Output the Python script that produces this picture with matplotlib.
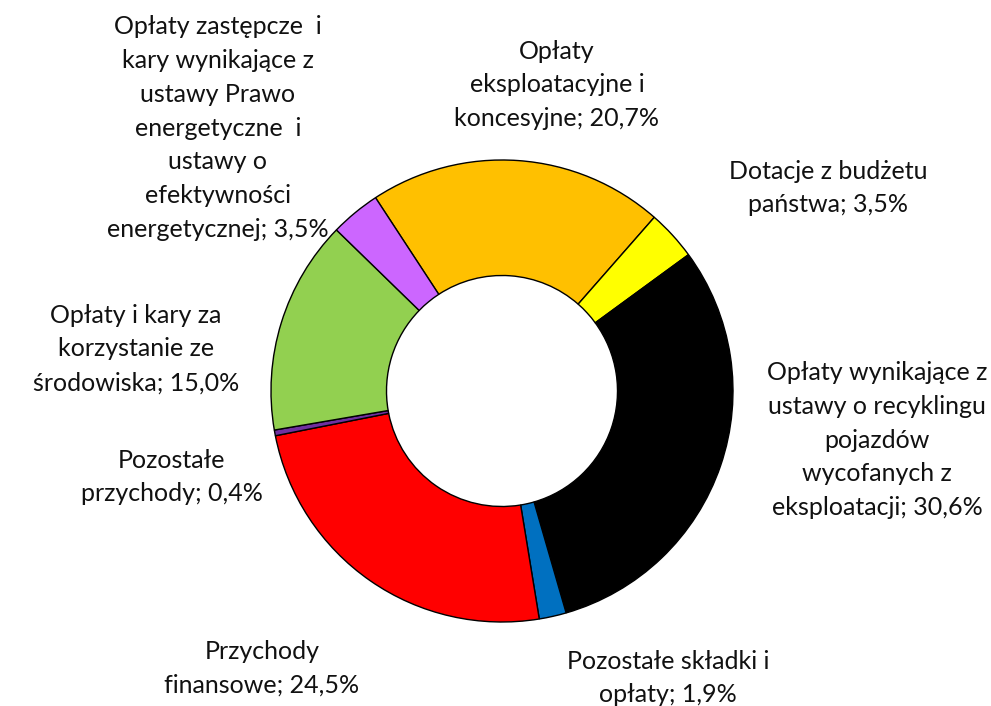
import matplotlib.pyplot as plt

# -------------------------------
# Data
# -------------------------------
categories = [
    'Opłaty\neksploatacyjne i\nkoncesyjne',
    'Dotacje z budżetu\npaństwa',
    'Opłaty wynikające z\nustawy o recyklingu\npojazdów\nwycofanych z\neksploatacji',
    'Pozostałe składki i\nopłaty',
    'Przychody\nfinansowe',
    'Pozostałe\nprzychody',
    'Opłaty i kary za\nkorzystanie ze\nśrodowiska',
    'Opłaty zastępcze  i\nkary wynikające z\nustawy Prawo\nenergetyczne  i\nustawy o\nefektywności\nenergetycznej',
]
shares = [20.7, 3.5, 30.6, 1.9, 24.5, 0.4, 15.0, 3.5]
colors = ['#FFC000', '#FFFF00', '#000000', '#0070C0', '#FF0000', '#7030A0', '#92D050', '#CC66FF']

# label centres in pixels (x, y from top)
label_px = [(557, 85), (828, 188), (877, 440), (668, 678),
            (262, 668), (172, 477), (136, 349), (218, 128)]

plt.rcParams['font.family'] = ['Lato', 'DejaVu Sans']

W, H = 991, 706
fig = plt.figure(figsize=(W / 100, H / 100), dpi=100)

cx, cy, r = 502, 391, 231
ax = fig.add_axes([(cx - r) / W, (H - cy - r) / H, 2 * r / W, 2 * r / H])

ax.pie(shares, colors=colors, startangle=123.2, counterclock=False,
       radius=1, wedgeprops=dict(width=0.5, edgecolor='black', linewidth=1))
ax.set_xlim(-1, 1)
ax.set_ylim(-1, 1)
ax.set_aspect('equal')
ax.axis('off')

# Data labels
for name, v, (px, py) in zip(categories, shares, label_px):
    txt = f'{name}; {v:.1f}%'.replace('.', ',')
    fig.text(px / W, 1 - py / H, txt, ha='center', va='center',
             fontsize=18, linespacing=1.57, color='#111111')

fig.savefig('out.png', dpi=100)
